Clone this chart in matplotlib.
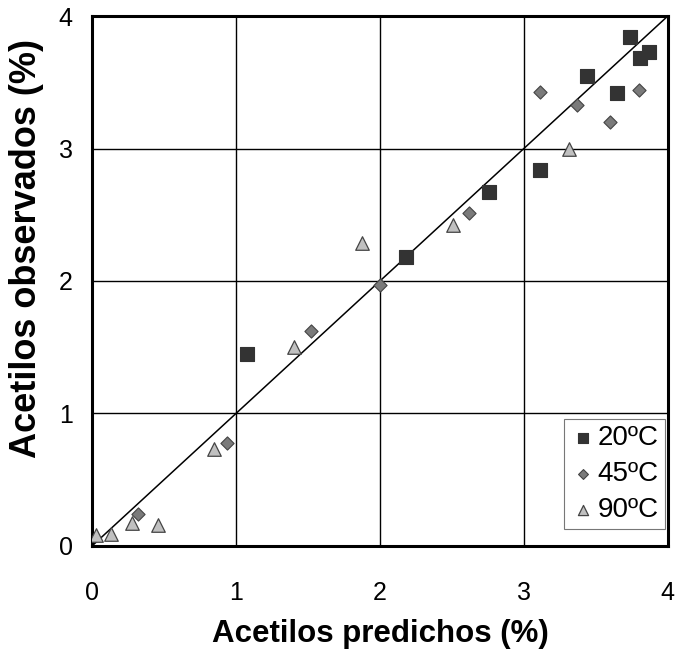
import matplotlib.pyplot as plt

plt.rcParams['font.family'] = ['Liberation Sans', 'DejaVu Sans']

# 20 C
x20 = [3.74, 3.87, 3.81, 3.44, 3.65, 3.11, 2.76, 2.18, 1.08]
y20 = [3.84, 3.73, 3.68, 3.55, 3.42, 2.84, 2.67, 2.18, 1.45]
# 45 C
x45 = [3.11, 3.37, 3.80, 3.60, 2.62, 2.00, 1.52, 0.94, 0.32]
y45 = [3.43, 3.33, 3.44, 3.20, 2.51, 1.97, 1.62, 0.78, 0.24]
# 90 C
x90 = [3.31, 2.51, 1.875, 1.40, 0.845, 0.28, 0.46, 0.13, 0.03]
y90 = [3.00, 2.42, 2.29, 1.50, 0.73, 0.17, 0.16, 0.09, 0.08]

labels = ['20ºC', '45ºC', '90ºC']
ticks = [0, 1, 2, 3, 4]

fig = plt.figure(figsize=(6.78, 6.59), dpi=100)
ax = fig.add_axes([0.1357, 0.1715, 0.8493, 0.8042])

ax.plot([0, 4], [0, 4], color='black', lw=1.1, zorder=2)

ax.scatter(x20, y20, marker='s', s=90, color='#333333', edgecolors='#333333',
           linewidths=0.8, label=labels[0], zorder=3)
ax.scatter(x45, y45, marker='D', s=45, color='#7a7a7a', edgecolors='#444444',
           linewidths=0.8, label=labels[1], zorder=3)
ax.scatter(x90, y90, marker='^', s=95, color='#c0c0c0', edgecolors='#444444',
           linewidths=0.9, label=labels[2], zorder=3)

ax.set_xlim(0, 4)
ax.set_ylim(0, 4)
ax.set_xticks(ticks)
ax.set_yticks(ticks)
ax.grid(True, color='black', lw=1.0, zorder=0)
ax.set_axisbelow(True)
ax.tick_params(length=0, labelsize=18)
ax.tick_params(axis='x', pad=25)
ax.tick_params(axis='y', pad=14)
for s in ax.spines.values():
    s.set_linewidth(2.2)

ax.set_xlabel('Acetilos predichos (%)', fontsize=22.5, fontweight='bold', labelpad=10)
ax.set_ylabel('Acetilos observados (%)', fontsize=26, fontweight='bold')
ax.yaxis.set_label_coords(-0.084, 0.562)

leg = ax.legend(loc='lower right', bbox_to_anchor=(1.0, 0.026), fontsize=20,
                frameon=True, fancybox=False, borderaxespad=0.1,
                handletextpad=0.1, handlelength=0.9, labelspacing=0.36,
                borderpad=0.22, markerscale=0.75)
leg.get_frame().set_edgecolor('#555555')
leg.get_frame().set_linewidth(0.8)

plt.savefig('out.png', dpi=100)
